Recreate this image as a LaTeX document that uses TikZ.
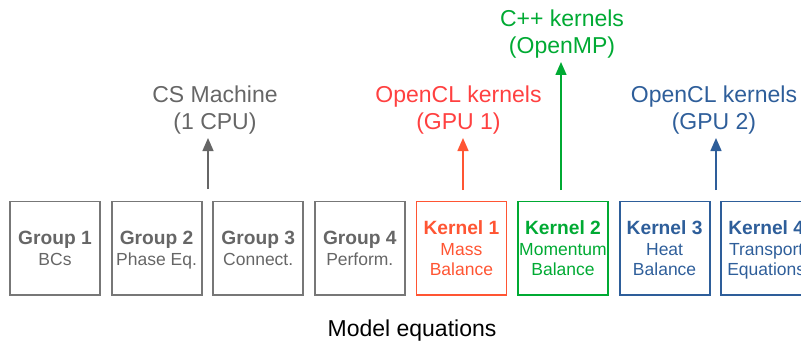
\documentclass[tikz,border=0pt]{standalone}
\usepackage{fontspec}
\setmainfont{Liberation Sans}
\usetikzlibrary{arrows.meta}
\definecolor{cgray}{HTML}{666666}
\definecolor{cgrayb}{HTML}{777777}
\definecolor{cred}{HTML}{FF5533}
\definecolor{cred2}{HTML}{FF4040}
\definecolor{cgreen}{HTML}{00AA33}
\definecolor{cblue}{HTML}{2E5E9A}
\newcommand{\ttl}[1]{{\bfseries\fontsize{19.2}{21}\selectfont\rule{0pt}{18pt}#1}}
\newcommand{\lastln}[1]{#1\vphantom{Eqp}}
\begin{document}
\begin{tikzpicture}[x=1pt,y=-1pt,
  box/.style={draw, line width=1.8pt, minimum width=90pt, minimum height=93.5pt,
    inner sep=0pt, align=center, font=\fontsize{17.5}{20.5}\selectfont},
  gbox/.style={box, draw=cgrayb, text=cgray},
  lab/.style={align=center, inner sep=0pt, font=\fontsize{23}{27.5}\selectfont},
  arr/.style={line width=1.5pt, -{Triangle[length=13pt,width=11pt]}}
]
\useasboundingbox (0,0) rectangle (801,345);
\clip (0,0) rectangle (801,345);
% boxes
\node[gbox] (g1) at (55,248.3) {\ttl{Group 1}\\[0.5pt]\lastln{BCs}};
\node[gbox] (g2) at (156.6,248.3) {\ttl{Group 2}\\[0.5pt]\lastln{Phase Eq.}};
\node[gbox] (g3) at (258.2,248.3) {\ttl{Group 3}\\[0.5pt]\lastln{Connect.}};
\node[gbox] (g4) at (359.8,248.3) {\ttl{Group 4}\\[0.5pt]\lastln{Perform.}};
\node[box, draw=cred, text=cred] (k1) at (461.4,248.3) {\ttl{Kernel 1}\\Mass\\\lastln{Balance}};
\node[box, draw=cgreen, text=cgreen] (k2) at (563,248.3) {\ttl{Kernel 2}\\Momentum\\\lastln{Balance}};
\node[box, draw=cblue, text=cblue] (k3) at (664.6,248.3) {\ttl{Kernel 3}\\Heat\\\lastln{Balance}};
\node[box, draw=cblue, text=cblue] (k4) at (766.2,248.3) {\ttl{Kernel 4}\\Transport\\\lastln{Equations}};
% labels
\node[lab, text=cgray] (cs) at (215,110) {CS Machine\\(1 CPU)};
\node[lab, text=cred2] (gpu1) at (458.5,110) {OpenCL kernels\\(GPU 1)};
\node[lab, text=cgreen] (omp) at (562,34) {C++ kernels\\(OpenMP)};
\node[lab, text=cblue] (gpu2) at (714,110) {OpenCL kernels\\(GPU 2)};
\node[anchor=base, inner sep=0pt, font=\fontsize{23}{27.5}\selectfont] (me) at (412,336) {Model equations};
% arrows
\coordinate (s1) at (208,189);
\coordinate (t1) at (208,138);
\coordinate (s2) at (463,190);
\coordinate (t2) at (463,138);
\coordinate (s3) at (561,190);
\coordinate (t3) at (561,62);
\coordinate (s4) at (716,190);
\coordinate (t4) at (716,138);
\draw[arr, cgray, line width=1.3pt] (s1) -- (t1);
\draw[arr, cred] (s2) -- (t2);
\draw[arr, cgreen] (s3) -- (t3);
\draw[arr, cblue] (s4) -- (t4);
\end{tikzpicture}
\end{document}
